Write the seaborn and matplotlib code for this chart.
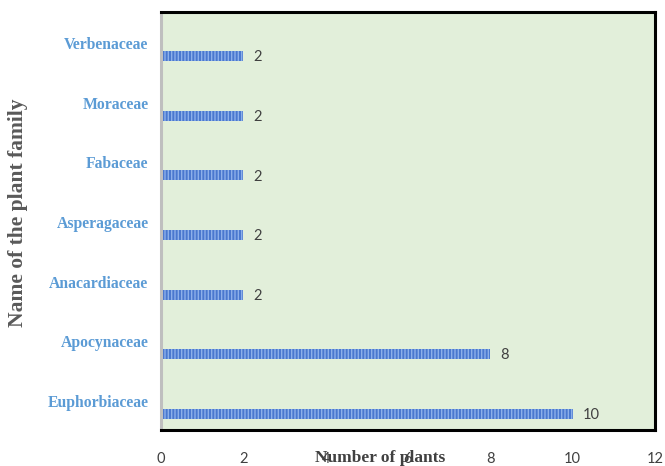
import matplotlib
matplotlib.use("Agg")
import matplotlib.pyplot as plt
import seaborn as sns
import pandas as pd

# Plant families (top to bottom) and number of plants in each
families = ["Verbenaceae", "Moraceae", "Fabaceae", "Asperagaceae",
            "Anacardiaceae", "Apocynaceae", "Euphorbiaceae"]
counts = [2, 2, 2, 2, 2, 8, 10]
x_ticks = [0, 2, 4, 6, 8, 10, 12]

df = pd.DataFrame({"family": families, "count": counts})

sns.set_theme(style="white")
plt.rcParams["hatch.color"] = "#8db0ea"
plt.rcParams["hatch.linewidth"] = 1.0

fig = plt.figure(figsize=(6.65, 4.66), dpi=100)
ax = fig.add_axes([161 / 665, 36 / 466, 494 / 665, 418 / 466])
ax.set_facecolor("#e2efda")

sns.barplot(data=df, x="count", y="family", order=families, orient="h",
            color="#4a78cf", width=0.17, saturation=1, ax=ax,
            edgecolor="#4a78cf", linewidth=0)
for bar in ax.patches:
    bar.set_hatch("|||||")
    bar.set_edgecolor("#8db0ea")
    bar.set_linewidth(0)

# value labels at the end of each bar
for i, v in enumerate(counts):
    ax.text(v + 0.24, i + 0.02, str(v), va="center", ha="left",
            fontsize=10.5, color="#404040", family="Lato")

ax.set_xlim(0, 12)
ax.set_ylim(6.27, -0.74)

# category labels sit a little above their bars
ax.set_yticks([i - 0.22 for i in range(len(families))])
ax.set_yticklabels(families, fontsize=11.3, color="#5b9bd5",
                   family="Liberation Serif", fontweight="bold")
ax.tick_params(axis="y", length=0, pad=9)

ax.set_xticks(x_ticks)
ax.set_xticklabels([str(t) for t in x_ticks], fontsize=10.5, color="#404040",
                   family="Lato")
ax.tick_params(axis="x", length=0, pad=16)

ax.set_xlabel("Number of plants", fontsize=12.5, fontweight="bold",
              family="Liberation Serif", color="#404040")
ax.xaxis.set_label_coords(0.443, -0.067)
ax.xaxis.label.set_va("center")

ax.set_ylabel("Name of the plant family", fontsize=15.5, fontweight="bold",
              family="Liberation Serif", color="#595959")
ax.yaxis.set_label_coords(-0.29, 0.52)
ax.yaxis.label.set_va("center")

for side in ["top", "right", "bottom"]:
    ax.spines[side].set_visible(True)
    ax.spines[side].set_color("black")
    ax.spines[side].set_linewidth(2.2)
ax.spines["left"].set_color("#bfbfbf")
ax.spines["left"].set_linewidth(2.2)

fig.savefig("out.png", dpi=100)
